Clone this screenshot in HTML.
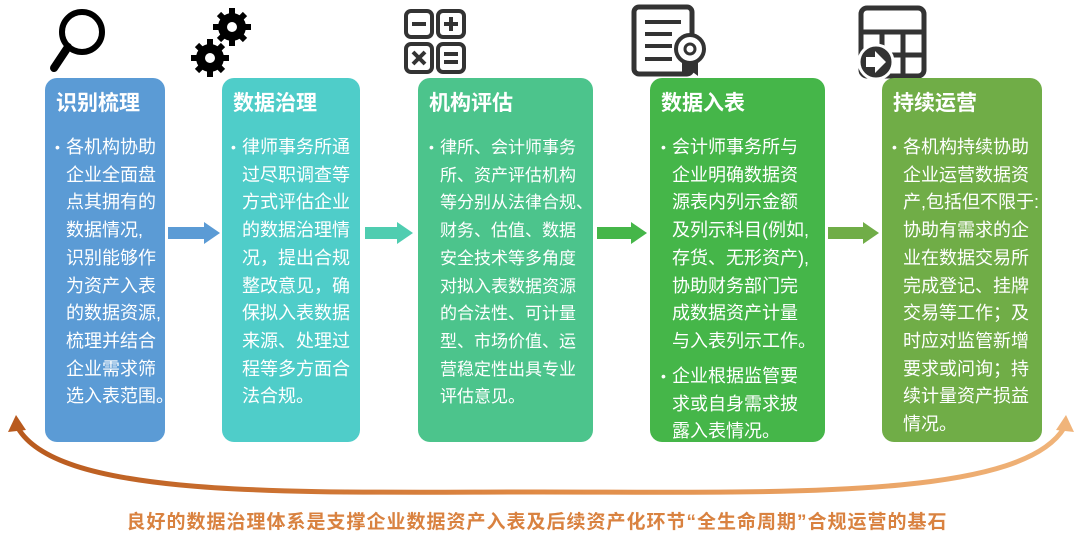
<!DOCTYPE html>
<html><head><meta charset="utf-8"><style>
body{margin:0;width:1080px;height:538px;background:#fff;position:relative;overflow:hidden;font-family:"Liberation Sans","Noto Sans CJK SC",sans-serif;}
.c{position:absolute;top:78px;height:364px;border-radius:12px;color:#fff;}
.t{position:absolute;left:11px;top:90px;font-size:21px;font-weight:bold;line-height:28px;}
.b{position:absolute;font-size:18px;line-height:27.7px;white-space:nowrap;}
.b i{position:absolute;left:-11px;font-style:normal;font-size:14px;}
.ar{position:absolute;top:222px;}
</style></head><body>
<svg width="1080" height="538" style="position:absolute;left:0;top:0">
<defs><linearGradient id="g" x1="0" x2="1"><stop offset="0" stop-color="#b85a1e"/><stop offset="0.5" stop-color="#e08a45"/><stop offset="1" stop-color="#f0b47a"/></linearGradient></defs>
<path d="M18,428 C60,500 300,492 540,492 C780,492 1020,500 1064,428" fill="none" stroke="url(#g)" stroke-width="5"/>
<polygon points="8,432 16,415 26,430" fill="#b85a1e"/>
<polygon points="1056,430 1066,415 1074,432" fill="#f0b47a"/>
<circle cx="82" cy="32" r="20" fill="none" stroke="#000" stroke-width="6"/>
<line x1="68" y1="47" x2="54" y2="68" stroke="#000" stroke-width="8" stroke-linecap="round"/>
<g fill="#000"><circle cx="232" cy="27" r="14"/><circle cx="210" cy="58" r="14"/>
<g stroke="#000" stroke-width="6"><line x1="232" y1="8" x2="232" y2="46"/><line x1="213" y1="27" x2="251" y2="27"/><line x1="219" y1="14" x2="245" y2="40"/><line x1="219" y1="40" x2="245" y2="14"/>
<line x1="210" y1="39" x2="210" y2="77"/><line x1="191" y1="58" x2="229" y2="58"/><line x1="197" y1="45" x2="223" y2="71"/><line x1="197" y1="71" x2="223" y2="45"/></g></g>
<circle cx="232" cy="27" r="5" fill="#fff"/><circle cx="210" cy="58" r="5" fill="#fff"/>
<g fill="none" stroke="#333" stroke-width="4"><rect x="406" y="11" width="26" height="26" rx="5"/><rect x="438" y="11" width="26" height="26" rx="5"/><rect x="406" y="44" width="26" height="28" rx="5"/><rect x="438" y="44" width="26" height="28" rx="5"/></g>
<g stroke="#333" stroke-width="4"><line x1="412" y1="24" x2="426" y2="24"/><line x1="444" y1="24" x2="458" y2="24"/><line x1="451" y1="17" x2="451" y2="31"/><line x1="413" y1="52" x2="425" y2="64"/><line x1="425" y1="52" x2="413" y2="64"/><line x1="444" y1="54" x2="458" y2="54"/><line x1="444" y1="62" x2="458" y2="62"/></g>
<rect x="634" y="7" width="58" height="67" rx="5" fill="none" stroke="#333" stroke-width="5"/>
<g stroke="#333" stroke-width="4"><line x1="645" y1="22" x2="681" y2="22"/><line x1="645" y1="34" x2="672" y2="34"/><line x1="645" y1="46" x2="672" y2="46"/><line x1="645" y1="59" x2="672" y2="59"/></g>
<circle cx="690" cy="49" r="14" fill="#fff" stroke="#333" stroke-width="4"/><circle cx="690" cy="49" r="5" fill="none" stroke="#333" stroke-width="3"/>
<polygon points="682,61 682,76 690,70 698,76 698,61" fill="#333"/>
<rect x="861" y="8" width="63" height="68" rx="6" fill="none" stroke="#333" stroke-width="5"/>
<g stroke="#333" stroke-width="5"><line x1="861" y1="32" x2="924" y2="32"/><line x1="861" y1="55" x2="924" y2="55"/><line x1="882" y1="32" x2="882" y2="76"/><line x1="903" y1="32" x2="903" y2="76"/></g>
<circle cx="876" cy="62" r="17" fill="#333" stroke="#fff" stroke-width="3"/>
<polygon points="866,57 875,57 875,51 886,62 875,73 875,67 866,67" fill="#fff"/>
<text x="537" y="528" text-anchor="middle" font-size="19" letter-spacing="1" font-weight="bold" fill="#d98240" font-family="Liberation Sans, Noto Sans CJK SC, sans-serif">良好的数据治理体系是支撑企业数据资产入表及后续资产化环节“全生命周期”合规运营的基石</text>
</svg>

<div class="c" style="left:45px;width:120px;background:#5b9bd5"><div class="t" style="top:12px">识别梳理</div>
<div class="b" style="left:21px;top:56px"><i>•</i>各机构协助<br>企业全面盘<br>点其拥有的<br>数据情况,<br>识别能够作<br>为资产入表<br>的数据资源,<br>梳理并结合<br>企业需求筛<br>选入表范围。</div></div>

<div class="c" style="left:222px;width:138px;background:#4fcdc9"><div class="t" style="top:12px">数据治理</div>
<div class="b" style="left:20px;top:56px"><i>•</i>律师事务所通<br>过尽职调查等<br>方式评估企业<br>的数据治理情<br>况，提出合规<br>整改意见，确<br>保拟入表数据<br>来源、处理过<br>程等多方面合<br>法合规。</div></div>

<div class="c" style="left:418px;width:175px;background:#4cc48c"><div class="t" style="top:12px">机构评估</div>
<div class="b" style="left:22px;top:56px;font-size:17px"><i>•</i>律所、会计师事务<br>所、资产评估机构<br>等分别从法律合规、<br>财务、估值、数据<br>安全技术等多角度<br>对拟入表数据资源<br>的合法性、可计量<br>型、市场价值、运<br>营稳定性出具专业<br>评估意见。</div></div>

<div class="c" style="left:650px;width:175px;background:#45b649"><div class="t" style="top:12px">数据入表</div>
<div class="b" style="left:22px;top:56px"><i>•</i>会计师事务所与<br>企业明确数据资<br>源表内列示金额<br>及列示科目(例如,<br>存货、无形资产),<br>协助财务部门完<br>成数据资产计量<br>与入表列示工作。</div>
<div class="b" style="left:22px;top:285px"><i>•</i>企业根据监管要<br>求或自身需求披<br>露入表情况。</div></div>

<div class="c" style="left:882px;width:160px;background:#70ad47"><div class="t" style="top:12px">持续运营</div>
<div class="b" style="left:21px;top:56px"><i>•</i>各机构持续协助<br>企业运营数据资<br>产,包括但不限于:<br>协助有需求的企<br>业在数据交易所<br>完成登记、挂牌<br>交易等工作；及<br>时应对监管新增<br>要求或问询；持<br>续计量资产损益<br>情况。</div></div>

<svg class="ar" style="left:168px" width="52" height="22"><polygon points="0,5 36,5 36,0 52,11 36,22 36,17 0,17" fill="#5b9bd5"/></svg>
<svg class="ar" style="left:365px" width="48" height="22"><polygon points="0,5 32,5 32,0 48,11 32,22 32,17 0,17" fill="#4fcdb0"/></svg>
<svg class="ar" style="left:597px" width="50" height="22"><polygon points="0,5 34,5 34,0 50,11 34,22 34,17 0,17" fill="#45b649"/></svg>
<svg class="ar" style="left:828px" width="51" height="22"><polygon points="0,5 35,5 35,0 51,11 35,22 35,17 0,17" fill="#70ad47"/></svg>
</body></html>
